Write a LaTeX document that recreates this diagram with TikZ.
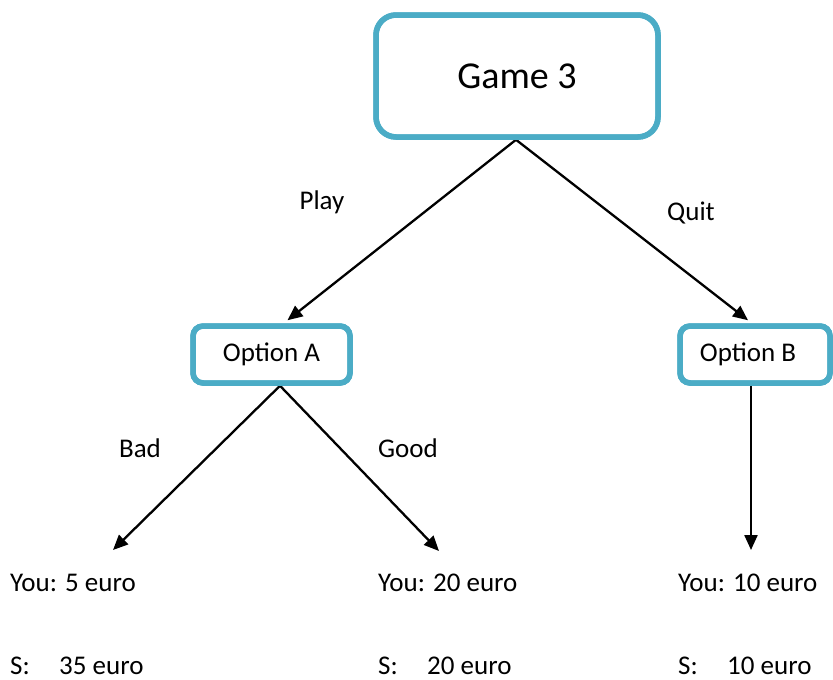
\documentclass[tikz,border=0pt]{standalone}
\usepackage{fontspec}
\setmainfont{Carlito}
\usetikzlibrary{arrows.meta}
\definecolor{boxteal}{HTML}{4BACC6}
\begin{document}
\begin{tikzpicture}[x=1pt,y=-1pt,
  choice/.style={draw=boxteal, line width=5.5pt, rounded corners=#1, fill=white,
    inner sep=0pt, font=\fontsize{27}{30}\selectfont},
  choice/.default=10pt,
  edge/.style={line width=2.3pt, -{Triangle[length=15pt,width=13pt]}},
  lbl/.style={inner sep=0pt, font=\fontsize{27}{30}\selectfont},
  payoff/.style={inner sep=0pt, anchor=base west, font=\fontsize{27}{30}\selectfont}]
\useasboundingbox (0,0) rectangle (833,680);

% decision boxes
\node[choice=20pt, minimum width=282pt, minimum height=122pt,
      font=\fontsize{38}{40}\selectfont] (game) at (517,76) {\raisebox{-2.5pt}{Game 3}};
\node[choice, minimum width=157pt, minimum height=57pt] (optA) at (271.5,354.5) {Option A};
\node[choice, minimum width=150pt, minimum height=57pt] (optB) at (755,354.5) {\kern-14pt Option B};

% payoffs
\node[payoff] (youA) at (10,591) {You: 5 euro};
\node[payoff] (sA)   at (10,674) {\makebox[49pt][l]{S:}35 euro};
\node[payoff] (youG) at (378,591) {You: 20 euro};
\node[payoff] (sG)   at (378,674) {\makebox[49pt][l]{S:}20 euro};
\node[payoff] (youB) at (678,591) {You: 10 euro};
\node[payoff] (sB)   at (678,674) {\makebox[49pt][l]{S:}10 euro};

% branch labels
\node[lbl] (play) at (322,202) {Play};
\node[lbl] (quit) at (691,213) {Quit};
\node[lbl] (bad)  at (140,448) {Bad};
\node[lbl] (good) at (408,448) {Good};

% arrow ends above the payoffs
\coordinate (tipBad)  at (113,550);
\coordinate (tipGood) at (439,551);
\coordinate (tipQuit) at (751,550);

% connectors
\draw[edge] ([xshift=-1pt]game.south) -- ([xshift=16pt,yshift=3pt]optA.north);
\draw[edge] ([xshift=-1pt]game.south) -- ([xshift=-7pt,yshift=3pt]optB.north);
\draw[edge] ([xshift=8.5pt]optA.south) -- (tipBad);
\draw[edge] ([xshift=8.5pt]optA.south) -- (tipGood);
\draw[edge] ([xshift=-4pt]optB.south) -- (tipQuit);

% redraw box outlines over the arrow starts
\node[choice=20pt, minimum width=282pt, minimum height=122pt, fill=none,
      font=\fontsize{38}{40}\selectfont] at (517,76) {\phantom{Game 3}};
\node[choice, minimum width=157pt, minimum height=57pt, fill=none] at (271.5,354.5) {\phantom{Option A}};
\node[choice, minimum width=150pt, minimum height=57pt, fill=none] at (755,354.5) {\phantom{Option B}};
\end{tikzpicture}
\end{document}
